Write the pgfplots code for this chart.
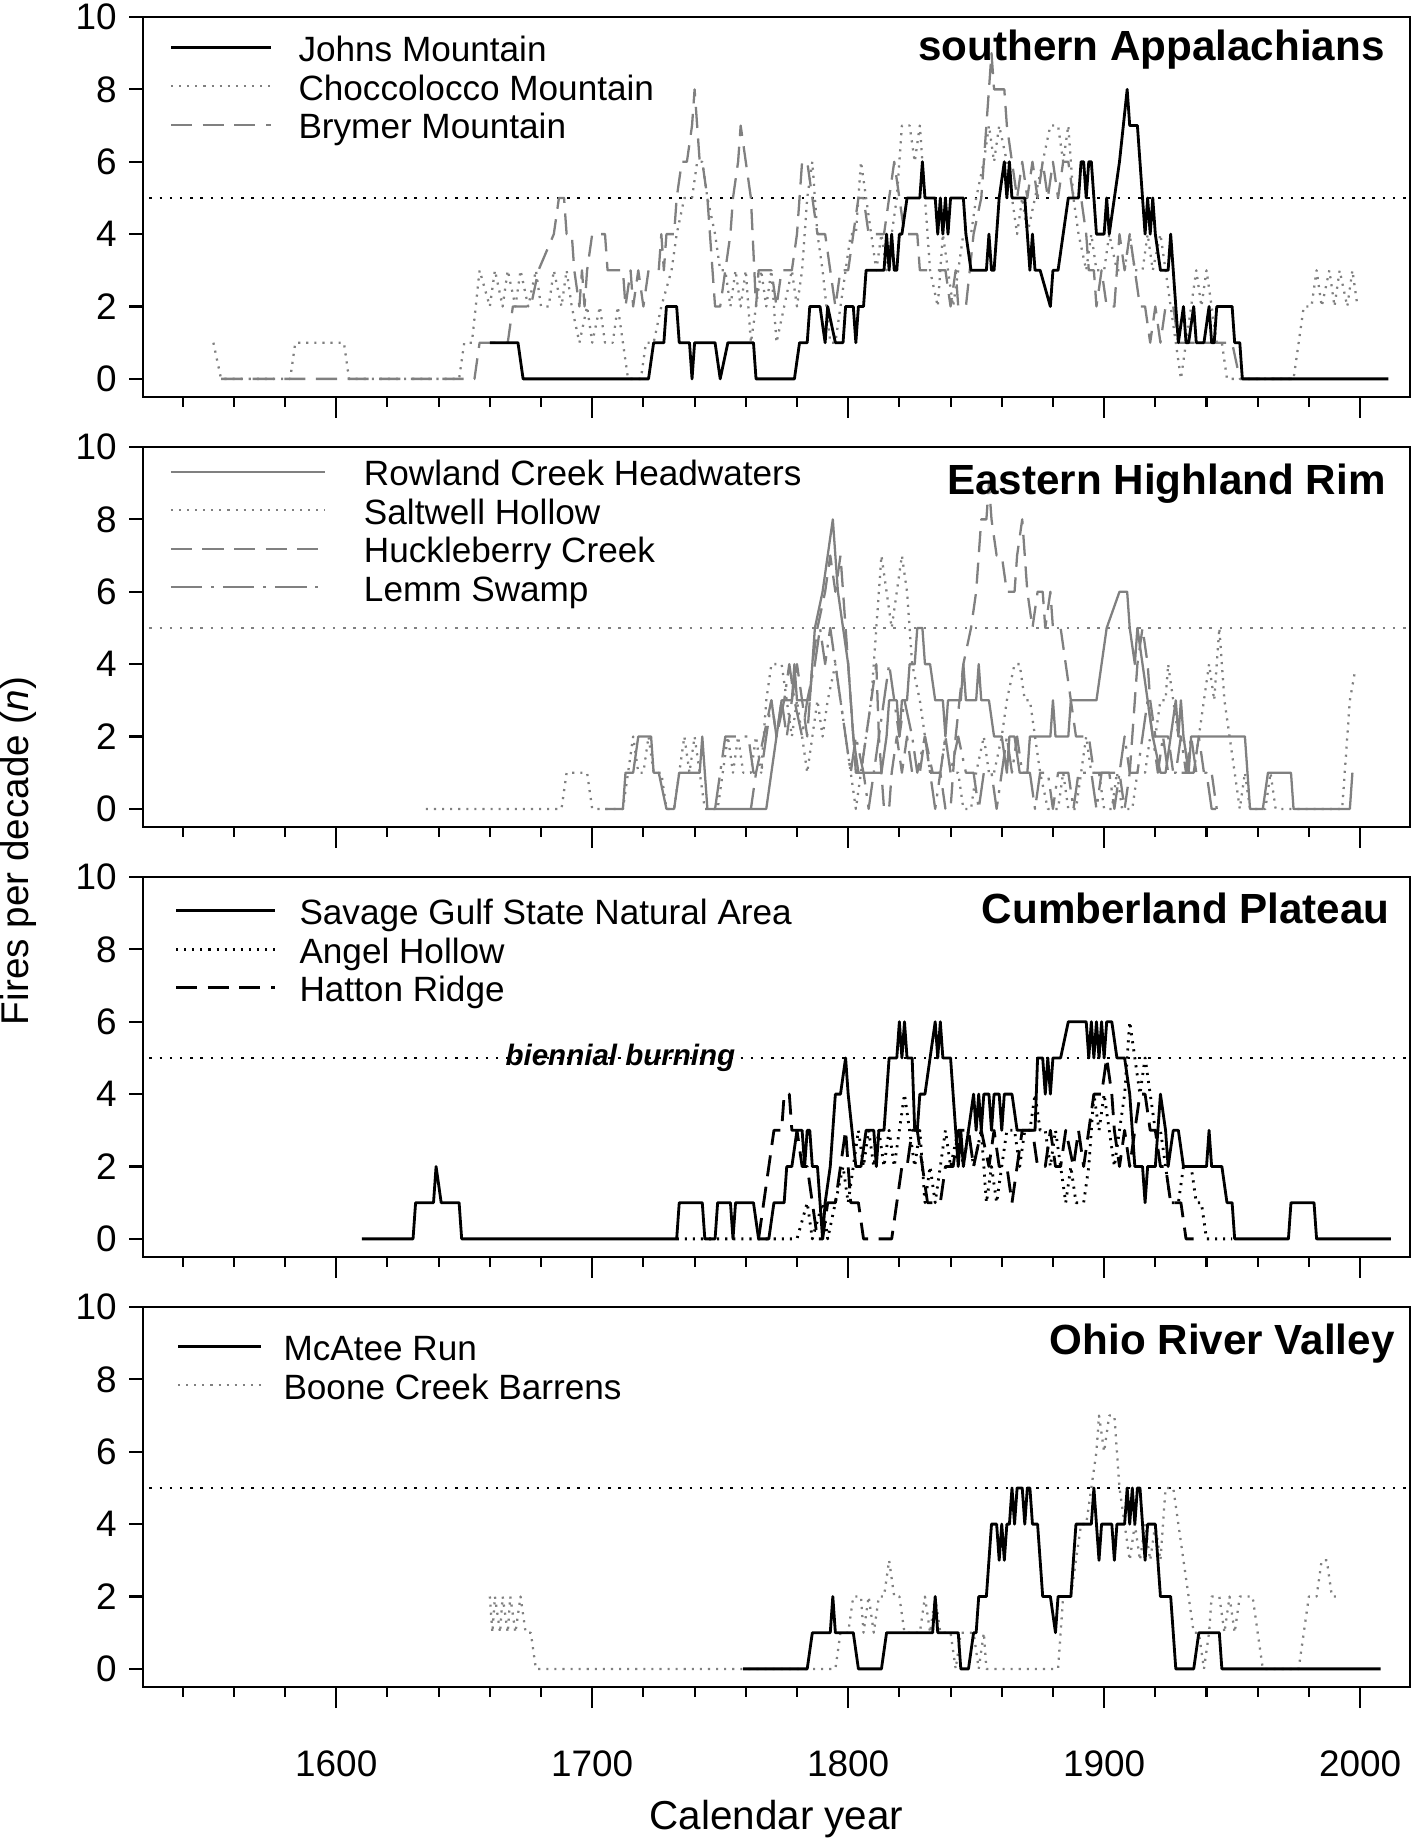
\documentclass[border=0pt]{standalone}
\usepackage{fontspec}
\setmainfont{Liberation Sans}
\usepackage{pgfplots}
\pgfplotsset{compat=1.18}
\definecolor{lg}{RGB}{128,128,128}
\tikzset{
  blk/.style={black, line width=0.8pt, line join=round},
  gry/.style={lg, line width=0.65pt, line join=round},
  dotsty/.style={dash pattern=on 0.6pt off 1.7pt},
  dashsty/.style={dash pattern=on 6pt off 3pt},
  dashdotsty/.style={dash pattern=on 9pt off 2.5pt on 0.8pt off 2.5pt},
  refdot/.style={line width=0.7pt, dash pattern=on 0.7pt off 2.2pt},
  ttl/.style={anchor=base east, font=\bfseries\fontsize{12}{14}\selectfont},
}
\pgfplotsset{
  panel/.style={
    scale only axis, width=12.67cm, height=3.80cm,
    xmin=1524.5, xmax=2019.5, ymin=-0.5, ymax=10,
    xtick={1600,1700,1800,1900,2000},
    minor xtick={1540,1560,1580,1620,1640,1660,1680,1720,1740,1760,1780,1820,1840,1860,1880,1920,1940,1960,1980},
    ytick=\empty,
    extra y ticks={0,2,4,6,8,10},
    extra y tick style={major tick length=0.14cm},
    tick align=outside, xtick pos=left, ytick pos=left,
    major tick length=0.21cm, minor tick length=0.10cm,
    axis line style={line width=0.8pt},
    every tick/.style={black, line width=0.6pt},
    /pgf/number format/assume math mode=true,
    /pgf/number format/1000 sep={},
    tick label style={font=\fontsize{10.5}{12}\selectfont},
    xticklabel style={yshift=-0.3cm},
    legend cell align=left,
    legend style={draw=none, fill=none, at={(0,1)}, anchor=north west,
      inner sep=0pt, row sep=1.25pt,
      nodes={inner sep=0pt, text height=7.5pt, text depth=2.2pt},
      font=\fontsize{10}{12}\selectfont},
  },
}
\begin{document}
\begin{tikzpicture}
\useasboundingbox (0,0) rectangle (14.18cm,18.44cm);
% ---------------- Panel 1 ----------------
\begin{axis}[panel, at={(1.43cm,14.47cm)}, anchor=south west, xticklabels={},
  legend style={xshift=0.26cm, yshift=-0.176cm, column sep=0.26cm},
  legend image code/.code={\draw[#1] (0cm,0.045cm) -- (1cm,0.045cm);}]
\addlegendimage{blk}\addlegendentry{Johns Mountain}
\addlegendimage{gry,dotsty}\addlegendentry{Choccolocco Mountain}
\addlegendimage{gry,dashsty}\addlegendentry{Brymer Mountain}
\addplot[refdot, black, forget plot] coordinates {(1527,5)(2019.5,5)};
% Brymer Mountain
\addplot[gry,dashsty,forget plot] coordinates {(1555,0)(1654,0)(1656,1)(1667,1)(1669,2)(1676,2)(1679,3)(1685,4)(1687,5)(1689,5)(1690,4)(1692,4)(1693,3)(1695,2)(1696,3)(1697,2)(1698,3)(1700,4)(1705,4)(1706,3)(1712,3)(1713,2)(1715,3)(1716,2)(1718,3)(1720,2)(1722,3)(1726,3)(1727,4)(1728,3)(1729,4)(1732,4)(1733,5)(1735,6)(1737,6)(1739,7)(1740,8)(1741,7)(1742,6)(1743,6)(1745,5)(1746,4)(1748,2)(1750,2)(1752,3)(1754,4)(1755,5)(1757,6)(1758,7)(1760,6)(1762,5)(1764,2)(1765,3)(1770,3)(1772,2)(1774,3)(1778,3)(1780,4)(1781,5)(1782,6)(1784,6)(1786,5)(1788,4)(1791,4)(1793,3)(1795,2)(1797,3)(1800,3)(1802,4)(1804,5)(1806,5)(1808,4)(1814,4)(1816,5)(1818,6)(1820,5)(1822,4)(1827,4)(1828,3)(1838,3)(1840,2)(1842,3)(1843,2)(1846,2)(1849,4)(1852,5)(1854,7)(1856,9)(1857,8)(1861,8)(1862,7)(1864,6)(1866,5)(1868,6)(1870,5)(1872,6)(1874,5)(1876,6)(1878,5)(1880,6)(1882,5)(1884,6)(1886,6)(1888,5)(1891,5)(1893,4)(1894,3)(1896,3)(1897,2)(1899,3)(1901,2)(1904,2)(1906,4)(1908,3)(1910,4)(1912,3)(1914,2)(1916,2)(1918,1)(1920,2)(1922,1)(1924,2)(1927,2)(1929,1)(1950,1)(1953,0)(1975,0)};
% Choccolocco Mountain
\addplot[gry,dotsty,forget plot] coordinates {(1552,1)(1555,0)(1582,0)(1584,1)(1603,1)(1605,0)(1648,0)(1650,1)(1653,1)(1656,3)(1660,2)(1662,3)(1665,2)(1667,3)(1670,2)(1672,3)(1675,2)(1678,3)(1680,2)(1683,2)(1685,3)(1688,2)(1690,3)(1692,2)(1695,1)(1698,2)(1700,1)(1703,2)(1705,1)(1708,1)(1710,2)(1712,1)(1714,0)(1719,0)(1721,1)(1724,1)(1727,2)(1731,3)(1733,4)(1736,5)(1739,5)(1741,6)(1743,6)(1745,5)(1748,4)(1750,3)(1752,3)(1754,2)(1756,3)(1758,2)(1760,3)(1762,1)(1764,2)(1766,3)(1768,2)(1770,3)(1772,1)(1775,2)(1778,3)(1780,2)(1782,3)(1784,5)(1786,6)(1788,4)(1790,3)(1793,1)(1795,1)(1797,2)(1799,3)(1801,4)(1803,4)(1805,6)(1807,5)(1809,4)(1811,3)(1813,4)(1815,3)(1817,4)(1819,5)(1821,7)(1824,7)(1826,6)(1828,7)(1830,5)(1832,3)(1835,2)(1837,4)(1839,3)(1841,2)(1843,3)(1845,4)(1848,4)(1850,5)(1853,6)(1855,7)(1857,6)(1859,7)(1862,6)(1864,5)(1866,4)(1868,5)(1870,4)(1873,5)(1876,6)(1879,7)(1882,7)(1884,6)(1886,7)(1888,5)(1890,4)(1893,3)(1895,4)(1897,3)(1900,3)(1902,4)(1905,3)(1908,3)(1910,4)(1912,3)(1915,3)(1917,4)(1919,3)(1922,4)(1924,3)(1926,2)(1928,1)(1930,0)(1932,1)(1934,2)(1936,3)(1938,2)(1940,3)(1942,2)(1944,1)(1946,1)(1948,0)(1974,0)(1976,1)(1978,2)(1981,2)(1983,3)(1985,2)(1988,3)(1990,2)(1992,3)(1995,2)(1997,3)(1999,2)};
% Johns Mountain
\addplot[blk,forget plot] coordinates {(1660,1)(1671,1)(1673,0)(1722,0)(1724,1)(1728,1)(1729,2)(1733,2)(1734,1)(1738,1)(1739,0)(1740,1)(1748,1)(1750,0)(1753,1)(1763,1)(1764,0)(1779,0)(1781,1)(1784,1)(1785,2)(1789,2)(1791,1)(1792,2)(1795,1)(1798,1)(1799,2)(1802,2)(1803,1)(1804,2)(1806,2)(1807,3)(1814,3)(1815,4)(1816,3)(1817,4)(1818,3)(1819,3)(1820,4)(1821,4)(1823,5)(1828,5)(1829,6)(1830,5)(1834,5)(1835,4)(1836,5)(1837,4)(1838,5)(1839,4)(1840,5)(1845,5)(1846,4)(1848,3)(1854,3)(1855,4)(1856,3)(1857,3)(1859,5)(1861,6)(1862,5)(1863,6)(1864,5)(1869,5)(1870,4)(1871,3)(1872,4)(1873,3)(1875,3)(1879,2)(1880,3)(1882,3)(1884,4)(1886,5)(1890,5)(1891,6)(1892,6)(1893,5)(1894,6)(1895,6)(1897,4)(1900,4)(1901,5)(1902,4)(1904,5)(1906,6)(1909,8)(1910,7)(1913,7)(1916,4)(1917,5)(1918,4)(1919,5)(1920,4)(1922,3)(1925,3)(1926,4)(1928,2)(1929,1)(1931,2)(1932,1)(1933,1)(1935,2)(1936,1)(1939,1)(1941,2)(1942,1)(1943,1)(1944,2)(1950,2)(1951,1)(1953,1)(1954,0)(2011,0)};
\node[ttl, xshift=-0.13cm, yshift=-0.44cm] at (rel axis cs:1,1) {southern Appalachians};
\end{axis}
% ---------------- Panel 2 ----------------
\begin{axis}[panel, at={(1.43cm,10.17cm)}, anchor=south west, xticklabels={},
  legend style={xshift=0.26cm, yshift=-0.116cm, column sep=0.38cm},
  legend image code/.code={\draw[#1] (0cm,0.045cm) -- (1.54cm,0.045cm);}]
\addlegendimage{gry}\addlegendentry{Rowland Creek Headwaters}
\addlegendimage{gry,dotsty}\addlegendentry{Saltwell Hollow}
\addlegendimage{gry,dashsty}\addlegendentry{Huckleberry Creek}
\addlegendimage{gry,dashdotsty}\addlegendentry{Lemm Swamp}
\addplot[refdot, lg, forget plot] coordinates {(1527,5)(2019.5,5)};
% Saltwell Hollow
\addplot[gry,dotsty,forget plot] coordinates {(1635,0)(1688,0)(1690,1)(1698,1)(1700,0)(1712,0)(1714,1)(1716,2)(1718,1)(1720,1)(1722,2)(1724,1)(1727,1)(1729,0)(1732,0)(1734,1)(1736,2)(1738,1)(1740,2)(1742,1)(1744,0)(1749,0)(1751,1)(1753,2)(1755,1)(1757,2)(1759,1)(1762,1)(1764,2)(1766,1)(1768,3)(1770,4)(1774,4)(1776,3)(1778,2)(1780,3)(1782,2)(1784,1)(1786,2)(1788,3)(1790,2)(1792,3)(1795,4)(1797,3)(1799,2)(1801,1)(1803,0)(1805,1)(1807,2)(1809,3)(1811,5)(1813,7)(1815,6)(1817,5)(1819,6)(1821,7)(1823,6)(1825,4)(1828,3)(1830,2)(1832,1)(1836,1)(1838,2)(1840,1)(1843,1)(1845,0)(1848,0)(1850,1)(1853,2)(1855,1)(1857,1)(1860,2)(1862,3)(1865,4)(1867,4)(1869,3)(1871,3)(1873,2)(1875,1)(1878,0)(1882,0)(1884,1)(1886,0)(1889,0)(1891,1)(1893,2)(1895,1)(1898,1)(1900,0)(1903,0)(1905,1)(1907,0)(1911,0)(1913,1)(1916,1)(1918,2)(1920,2)(1922,3)(1924,3)(1925,4)(1927,3)(1929,2)(1931,2)(1933,1)(1935,1)(1937,2)(1939,3)(1941,4)(1943,3)(1945,5)(1947,3)(1949,2)(1951,1)(1953,0)(1955,1)(1957,0)(1963,0)(1965,1)(1967,0)(1993,0)(1994,1)(1995,2)(1996,3)(1998,3.8)};
% Huckleberry Creek
\addplot[gry,dashsty,forget plot] coordinates {(1762,0)(1764,1)(1767,2)(1770,3)(1772,2)(1774,3)(1776,2)(1778,3)(1780,4)(1782,3)(1784,2)(1786,4)(1788,5)(1791,6)(1793,7)(1795,6)(1797,7)(1799,5)(1801,3)(1803,1)(1805,1)(1807,2)(1809,3)(1811,4)(1812,2)(1814,0)(1816,0)(1817,1)(1819,2)(1821,1)(1823,2)(1825,1)(1828,1)(1830,2)(1833,1)(1836,1)(1838,0)(1840,0)(1842,2)(1845,4)(1848,5)(1850,6)(1852,8)(1854,8)(1855,9)(1856,8)(1858,7)(1860,7)(1862,6)(1865,6)(1866,7)(1868,8)(1869,7)(1870,6)(1872,5)(1874,6)(1876,6)(1877,5)(1879,6)(1880,5)(1883,5)(1885,4)(1887,3)(1889,2)(1894,2)(1896,1)(1906,1)(1908,0)(1910,1)(1912,3)(1913,4)(1915,5)(1917,4)(1918,3)(1920,2)(1925,2)(1927,1)(1935,1)(1937,2)(1939,1)(1942,1)(1944,0)};
% Lemm Swamp
\addplot[gry,dashdotsty,forget plot] coordinates {(1748,0)(1750,1)(1752,2)(1761,2)(1763,1)(1766,1)(1768,2)(1770,3)(1772,2)(1775,3)(1777,4)(1779,3)(1782,2)(1784,3)(1787,4)(1789,5)(1791,4)(1793,5)(1795,4)(1797,3)(1799,2)(1801,1)(1803,2)(1806,1)(1808,0)(1810,1)(1812,2)(1814,3)(1816,4)(1818,3)(1820,2)(1822,3)(1825,2)(1827,1)(1830,2)(1832,1)(1834,0)(1836,1)(1838,2)(1840,1)(1843,2)(1846,1)(1849,1)(1851,0)(1853,1)(1856,1)(1858,0)(1860,1)(1862,2)(1864,1)(1866,2)(1868,1)(1871,1)(1873,0)(1875,1)(1878,1)(1880,0)(1882,1)(1886,1)(1888,0)(1890,1)(1895,1)(1897,0)(1899,1)(1902,1)(1904,0)(1906,1)(1908,2)(1910,1)(1913,1)(1915,2)(1917,3)(1919,2)(1921,1)(1923,2)(1925,1)(1928,1)(1930,2)(1932,1)(1934,2)(1936,1)(1940,1)(1942,0)(1945,0)};
% Rowland Creek Headwaters
\addplot[gry,forget plot] coordinates {(1705,0)(1712,0)(1713,1)(1716,1)(1718,2)(1723,2)(1724,1)(1726,1)(1729,0)(1732,0)(1734,1)(1742,1)(1743,2)(1744,1)(1745,0)(1768,0)(1770,1)(1772,2)(1774,3)(1778,3)(1779,4)(1780,3)(1785,3)(1787,5)(1790,6)(1794,8)(1796,6)(1798,5)(1800,4)(1802,2)(1804,1)(1813,1)(1815,2)(1816,3)(1819,3)(1820,2)(1821,3)(1823,3)(1824,4)(1826,4)(1827,5)(1829,5)(1830,4)(1832,4)(1834,3)(1837,3)(1838,2)(1839,3)(1844,3)(1845,4)(1846,3)(1850,3)(1851,4)(1852,3)(1855,3)(1857,2)(1860,2)(1862,1)(1863,2)(1865,2)(1867,1)(1870,1)(1871,2)(1879,2)(1880,3)(1881,2)(1886,2)(1887,3)(1897,3)(1899,4)(1901,5)(1906,6)(1909,6)(1910,5)(1912,4)(1913,5)(1915,4)(1917,3)(1919,2)(1922,1)(1924,1)(1926,2)(1928,3)(1929,2)(1930,3)(1931,2)(1933,1)(1934,2)(1936,2)(1955,2)(1956,1)(1957,0)(1962,0)(1964,1)(1973,1)(1974,0)(1996,0)(1997,1)};
\node[ttl, xshift=-0.12cm, yshift=-0.48cm] at (rel axis cs:1,1) {Eastern Highland Rim};
\end{axis}
% ---------------- Panel 3 ----------------
\begin{axis}[panel, at={(1.43cm,5.87cm)}, anchor=south west, xticklabels={},
  legend style={xshift=0.31cm, yshift=-0.206cm, column sep=0.23cm},
  legend image code/.code={\draw[#1] (0cm,0.045cm) -- (0.99cm,0.045cm);}]
\addlegendimage{blk}\addlegendentry{Savage Gulf State Natural Area}
\addlegendimage{blk,dotsty}\addlegendentry{Angel Hollow}
\addlegendimage{blk,dashsty}\addlegendentry{Hatton Ridge}
\addplot[refdot, black, forget plot] coordinates {(1527,5)(2019.5,5)};
% Angel Hollow
\addplot[blk,dotsty,forget plot] coordinates {(1733,0)(1780,0)(1784,1)(1786,0)(1790,1)(1792,0)(1795,1)(1798,2)(1800,1)(1802,2)(1804,3)(1806,2)(1808,3)(1810,2)(1812,3)(1814,2)(1816,3)(1818,2)(1820,3)(1822,4)(1824,3)(1826,2)(1828,3)(1830,1)(1832,2)(1834,1)(1836,2)(1838,3)(1840,2)(1843,3)(1845,2)(1847,3)(1849,2)(1852,3)(1854,1)(1856,2)(1858,1)(1860,2)(1862,3)(1865,3)(1867,2)(1869,3)(1871,3)(1873,4)(1875,3)(1877,3)(1879,2)(1881,3)(1883,2)(1885,1)(1887,2)(1889,1)(1892,1)(1894,2)(1896,4)(1898,3)(1900,4)(1902,3)(1904,2)(1906,3)(1908,4)(1910,6)(1912,5)(1914,4)(1916,5)(1918,4)(1920,3)(1922,3)(1924,2)(1926,1)(1929,1)(1931,2)(1934,2)(1936,1)(1938,1)(1940,0)(1950,0)};
% Hatton Ridge
\addplot[blk,dashsty,forget plot] coordinates {(1765,0)(1767,1)(1769,2)(1771,3)(1774,3)(1775,4)(1777,4)(1778,3)(1780,3)(1782,2)(1784,2)(1786,1)(1788,0)(1790,0)(1792,1)(1795,1)(1797,2)(1799,3)(1800,2)(1801,1)(1804,1)(1806,0)(1817,0)(1819,1)(1821,2)(1823,2)(1825,3)(1827,3)(1829,2)(1831,1)(1836,1)(1838,2)(1841,2)(1843,3)(1847,3)(1849,2)(1852,3)(1855,2)(1857,3)(1859,2)(1862,2)(1864,1)(1866,2)(1868,3)(1872,3)(1874,2)(1877,2)(1879,3)(1881,2)(1883,2)(1885,3)(1888,2)(1890,3)(1892,2)(1894,3)(1896,4)(1899,4)(1901,5)(1903,4)(1904,3)(1906,2)(1908,3)(1910,2)(1912,3)(1914,4)(1916,4)(1918,3)(1920,3)(1922,2)(1924,2)(1926,1)(1930,1)(1932,0)(1935,0)};
% Savage Gulf
\addplot[blk,forget plot] coordinates {(1610,0)(1630,0)(1631,1)(1638,1)(1639,2)(1641,1)(1648,1)(1649,0)(1733,0)(1734,1)(1743,1)(1744,0)(1748,0)(1749,1)(1754,1)(1755,0)(1756,1)(1763,1)(1765,0)(1769,0)(1771,1)(1775,1)(1776,2)(1778,2)(1780,3)(1782,3)(1783,2)(1784,3)(1785,3)(1786,2)(1788,2)(1789,1)(1790,0)(1791,1)(1793,2)(1795,4)(1797,4)(1799,5)(1800,4)(1803,2)(1805,2)(1807,3)(1810,3)(1811,2)(1812,3)(1814,3)(1816,5)(1819,5)(1820,6)(1821,5)(1822,6)(1823,5)(1825,5)(1826,3)(1827,3)(1828,4)(1830,4)(1832,5)(1834,6)(1835,5)(1836,6)(1837,5)(1840,5)(1843,2)(1844,3)(1845,2)(1847,3)(1849,4)(1850,3)(1851,4)(1852,3)(1853,4)(1855,4)(1856,3)(1857,4)(1859,4)(1860,3)(1861,4)(1864,4)(1866,3)(1873,3)(1874,5)(1876,5)(1877,4)(1878,5)(1879,4)(1880,5)(1883,5)(1886,6)(1893,6)(1894,5)(1895,6)(1896,5)(1897,6)(1898,5)(1899,6)(1900,5)(1901,6)(1903,6)(1905,5)(1908,5)(1910,4)(1912,2)(1915,2)(1916,1)(1917,2)(1920,2)(1922,4)(1924,3)(1925,2)(1927,3)(1929,3)(1931,2)(1940,2)(1941,3)(1942,2)(1946,2)(1948,1)(1950,1)(1951,0)(1972,0)(1973,1)(1982,1)(1983,0)(2012,0)};
\node[anchor=base, font=\bfseries\itshape\fontsize{8.4}{10}\selectfont] at (axis cs:1711,4.8) {biennial burning};
\node[ttl, xshift=-0.08cm, yshift=-0.47cm] at (rel axis cs:1,1) {Cumberland Plateau};
\end{axis}
% ---------------- Panel 4 ----------------
\begin{axis}[panel, at={(1.43cm,1.57cm)}, anchor=south west,
  legend style={xshift=0.33cm, yshift=-0.266cm, column sep=0.21cm},
  legend image code/.code={\draw[#1] (0cm,0.045cm) -- (0.83cm,0.045cm);}]
\addlegendimage{blk}\addlegendentry{McAtee Run}
\addlegendimage{gry,dotsty}\addlegendentry{Boone Creek Barrens}
\addplot[refdot, black, forget plot] coordinates {(1527,5)(2019.5,5)};
% Boone Creek Barrens
\addplot[gry,dotsty,forget plot] coordinates {(1660,2)(1661,1)(1662,2)(1664,1)(1665,2)(1667,1)(1668,2)(1670,1)(1672,2)(1674,1)(1676,1)(1678,0)(1795,0)(1797,1)(1800,1)(1802,2)(1805,2)(1806,1)(1808,2)(1810,1)(1812,2)(1814,2)(1816,3)(1818,2)(1820,2)(1822,1)(1825,1)(1828,1)(1830,2)(1832,1)(1834,2)(1836,1)(1840,1)(1842,0)(1844,1)(1849,1)(1851,0)(1853,1)(1854,0)(1882,0)(1884,2)(1887,2)(1889,3)(1891,4)(1893,4)(1895,5)(1897,6)(1898,7)(1900,6)(1902,7)(1904,7)(1905,6)(1906,5)(1908,4)(1910,3)(1912,4)(1914,3)(1916,4)(1918,3)(1920,4)(1922,3)(1924,5)(1927,5)(1929,4)(1931,3)(1933,2)(1935,1)(1937,1)(1939,0)(1941,1)(1942,2)(1945,2)(1947,1)(1949,2)(1951,1)(1953,2)(1956,2)(1958,2)(1960,1)(1962,0)(1976,0)(1978,1)(1980,2)(1983,2)(1985,3)(1987,3)(1989,2)(1991,2)};
% McAtee Run
\addplot[blk,forget plot] coordinates {(1759,0)(1784,0)(1786,1)(1793,1)(1794,2)(1795,1)(1802,1)(1804,0)(1813,0)(1815,1)(1833,1)(1834,2)(1835,1)(1843,1)(1844,0)(1847,0)(1849,1)(1850,1)(1851,2)(1854,2)(1856,4)(1858,4)(1859,3)(1860,4)(1861,3)(1862,4)(1863,4)(1864,5)(1865,4)(1866,5)(1868,5)(1869,4)(1870,5)(1871,5)(1872,4)(1874,4)(1875,3)(1876,2)(1879,2)(1881,1)(1882,2)(1887,2)(1889,4)(1895,4)(1896,5)(1897,4)(1898,3)(1899,4)(1903,4)(1904,3)(1905,4)(1908,4)(1909,5)(1910,4)(1911,5)(1912,4)(1913,5)(1914,5)(1915,4)(1916,3)(1917,4)(1920,4)(1921,3)(1922,2)(1926,2)(1927,1)(1928,0)(1935,0)(1937,1)(1945,1)(1946,0)(2008,0)};
\node[ttl, xshift=-0.03cm, yshift=-0.475cm] at (rel axis cs:1,1) {Ohio River Valley};
\end{axis}
\node[rotate=90, font=\fontsize{11}{13}\selectfont] at (0.19cm,9.93cm) {Fires per decade (\textit{n})};
\node[anchor=base, font=\fontsize{11.5}{13}\selectfont] at (7.765cm,0.14cm) {Calendar year};
\end{tikzpicture}
\end{document}
